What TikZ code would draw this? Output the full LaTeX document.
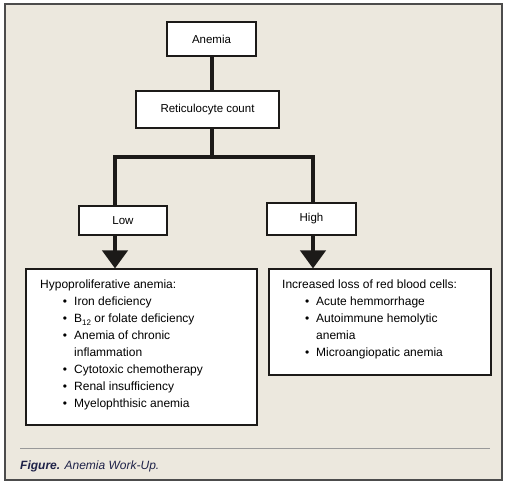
\documentclass[tikz,border=0pt]{standalone}
\usepackage{fontspec}
\setmainfont{Liberation Sans}
\usetikzlibrary{arrows.meta,positioning,calc}
\definecolor{paper}{RGB}{236,232,222}
\definecolor{ink}{RGB}{28,26,24}
\definecolor{navy}{RGB}{30,34,72}
\newcommand{\itm}[1]{\makebox[34pt][r]{\textbullet\hspace{7pt}}#1}
\newcommand{\cnt}[1]{\hspace*{34pt}#1}
\newcommand{\lowsub}[1]{\raisebox{-2.5pt}{\fontsize{8}{8}\selectfont #1}}

\begin{document}
\begin{tikzpicture}[x=1pt, y=-1pt,
  every node/.style={font=\fontsize{11.5}{17}\selectfont},
  box/.style={draw=ink, fill=white, line width=1.1pt, inner sep=0pt},
  trunk/.style={draw=ink, line width=4pt, line join=miter},
  lst/.style={anchor=north west, align=left, inner sep=0pt,
              font=\fontsize{12}{17}\selectfont},
]
\useasboundingbox[fill=white] (0,0) rectangle (513,490);
\draw[fill=paper, draw=black!70, line width=1.3pt] (5,4) rectangle (502,480);
% decision boxes
\node[box, minimum width=89pt, minimum height=34pt] (anemia) at (211.5,39) {Anemia};
\node[box, minimum width=143pt, minimum height=37pt] (reti) at (207.5,109.5) {Reticulocyte count};
\node[box, minimum width=88pt, minimum height=29pt] (low) at (123,220.5) {Low};
\node[box, minimum width=89pt, minimum height=32pt] (high) at (311.5,219) {High};
% result boxes
\node[box, minimum width=231pt, minimum height=156pt] (hypo) at (141.5,347) {};
\node[box, minimum width=222pt, minimum height=106pt] (loss) at (380,322) {};
\node[lst] (hypotxt) at (40,280) {Hypoproliferative anemia:\\
  \itm{Iron deficiency}\\
  \itm{B\lowsub{12} or folate deficiency}\\
  \itm{Anemia of chronic}\\
  \cnt{inflammation}\\
  \itm{Cytotoxic chemotherapy}\\
  \itm{Renal insufficiency}\\
  \itm{Myelophthisic anemia}};
\node[lst] (losstxt) at (282,280) {Increased loss of red blood cells:\\
  \itm{Acute hemmorrhage}\\
  \itm{Autoimmune hemolytic}\\
  \cnt{anemia}\\
  \itm{Microangiopatic anemia}};
% connectors
\coordinate (forkL) at (115,157);
\coordinate (forkR) at (313,157);
\draw[trunk] (anemia.south) -- (anemia.south |- reti.north);
\draw[trunk] (reti.south -| anemia.south) |- (forkL) -- (forkL |- low.north);
\draw[trunk] (anemia.south |- forkL) -- (forkR) -- (forkR |- high.north);
\draw[trunk, -{Triangle[length=18pt, width=25pt]}] (forkL |- low.south) -- (forkL |- hypo.north);
\draw[trunk, -{Triangle[length=18pt, width=25pt]}] (forkR |- high.south) -- (forkR |- loss.north);
% caption
\draw[black!40, line width=0.8pt] (20,448) -- (490,448);
\node[anchor=base west, inner sep=0pt, text=navy,
      font=\fontsize{12}{14}\selectfont\itshape] (cap) at (20,469)
  {\textbf{Figure.} Anemia Work-Up.};
\end{tikzpicture}
\end{document}
